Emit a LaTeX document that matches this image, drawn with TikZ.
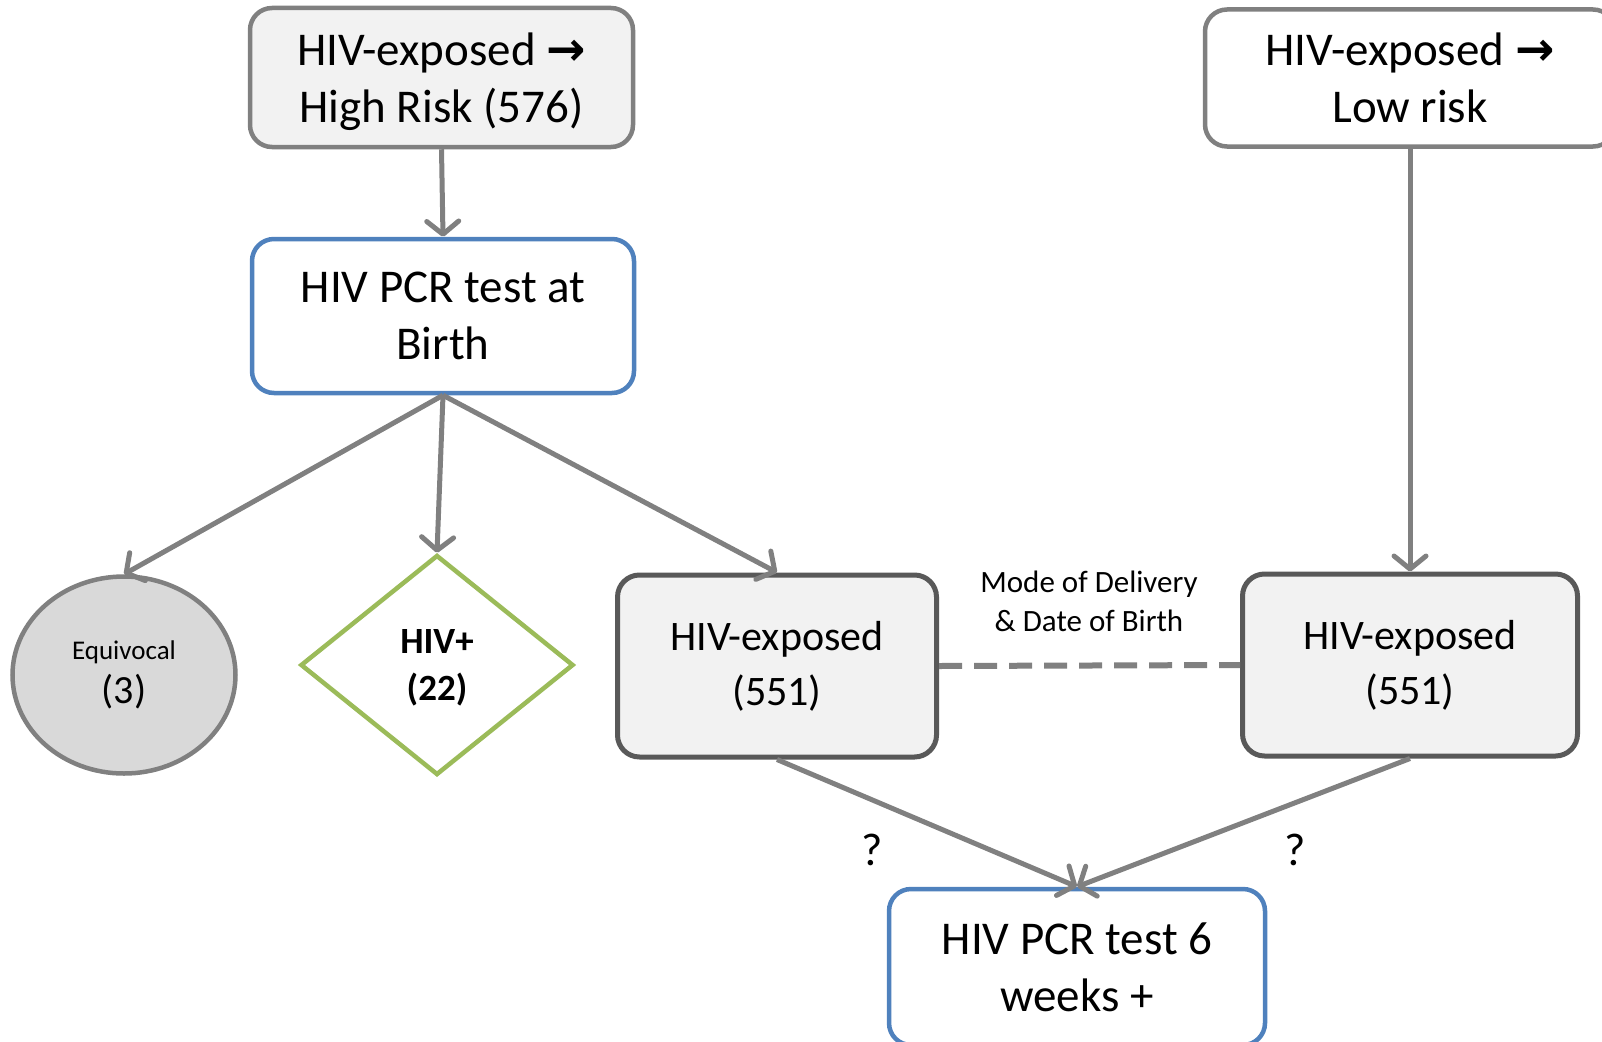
\documentclass[tikz,border=0pt]{standalone}
\usepackage{fontspec}
\setmainfont{Carlito}
\newfontfamily\dejavu{DejaVu Sans}
\usetikzlibrary{shapes.geometric,arrows.meta}
\definecolor{lgray}{HTML}{F2F2F2}
\definecolor{mgray}{HTML}{D9D9D9}
\definecolor{lnc}{HTML}{808080}
\definecolor{dkc}{HTML}{595959}
\definecolor{blu}{HTML}{4F81BD}
\definecolor{grn}{HTML}{9BBB59}
\newcommand{\rarr}{\smash{{\dejavu\bfseries →}}}
\begin{document}
\begin{tikzpicture}[x=1pt,y=-1pt,
 box/.style={rectangle, rounded corners=22pt, line width=4.5pt, align=center, inner sep=0pt, font=\fontsize{47}{57}\selectfont},
 topbox/.style={box, draw=lnc, text depth=0pt},
 bluebox/.style={box, draw=blu, fill=white},
 expbox/.style={box, draw=dkc, fill=lgray, line width=5pt, font=\fontsize{42}{55}\selectfont, minimum width=319pt, minimum height=182pt},
 conn/.style={draw=lnc, line width=5pt, -{Straight Barb[length=13pt,width=32pt,round]}},
 lbl/.style={inner sep=0pt, align=center},
]
\useasboundingbox (0,0) rectangle (1602,1041);
\clip (0,0) rectangle (1602,1041);
\node[topbox, fill=lgray, minimum width=383pt, minimum height=139pt] (hr) at (441.5,77.5) {HIV-exposed \rarr\\High Risk (576)};
\node[topbox, fill=white, minimum width=410pt, minimum height=137pt] (lr) at (1410,78) {HIV-exposed \rarr\\Low risk};
\node[bluebox, minimum width=382pt, minimum height=154pt] (birth) at (443,316) {HIV PCR test at\\Birth};
\node[ellipse, draw=lnc, fill=mgray, line width=4.5pt, minimum width=223pt, minimum height=197pt, inner sep=0pt, align=center, font=\fontsize{40}{44}\selectfont] (eq) at (124,675) {{\fontsize{27}{34}\selectfont Equivocal}\\(3)};
\node[diamond, draw=grn, fill=white, line width=4.5pt, minimum width=273pt, minimum height=220pt, inner sep=0pt, align=center, text depth=0pt, font=\fontsize{37}{47}\selectfont\bfseries] (hivp) at (437,665) {HIV+\\(22)};
\node[expbox] (el) at (777,666) {HIV-exposed\\(551)};
\node[expbox, minimum width=335pt] (er) at (1410,665) {HIV-exposed\\(551)};
\node[bluebox, minimum width=376pt, minimum height=156pt] (w6) at (1077,967) {HIV PCR test 6\\weeks +};
\node[lbl, font=\fontsize{31}{39}\selectfont] (mode) at (1089,601) {Mode of Delivery\\\& Date of Birth};
\node[lbl, font=\fontsize{46}{48}\selectfont] (q1) at (872,850) {?};
\node[lbl, font=\fontsize{46}{48}\selectfont] (q2) at (1295,850) {?};
\draw[conn] (hr.south) -- (birth.north);
\draw[conn] (lr.south) -- (er.north);
\draw[conn] (birth.south) -- (eq.north);
\draw[conn] (birth.south) -- (hivp.north);
\draw[conn] (birth.south) -- (el.north);
\draw[draw=lnc, line width=6pt, dash pattern=on 23pt off 12pt] (el.east) -- (er.west);
\draw[conn] (el.south) -- (w6.north);
\draw[conn] (er.south) -- (w6.north);
\end{tikzpicture}
\end{document}
